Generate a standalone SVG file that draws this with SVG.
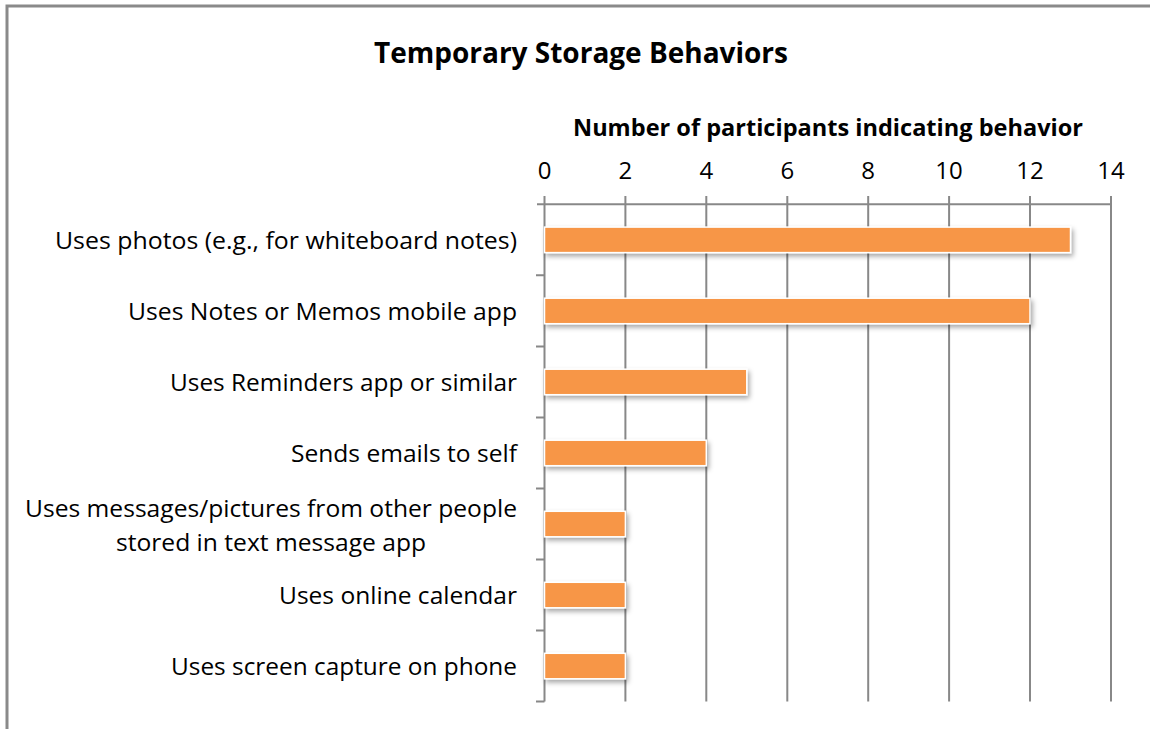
<svg xmlns="http://www.w3.org/2000/svg" width="1150" height="729" viewBox="0 0 1150 729">
<defs>
<style>
text{font-family:"Open Sans","Liberation Sans",sans-serif;fill:#000}
.title{font-size:28px;font-weight:bold;text-anchor:middle}
.atitle{font-size:23px;font-weight:bold;text-anchor:middle}
.tick{font-size:24px;text-anchor:middle}
.cat{font-size:23.5px;text-anchor:end}
.cat2{font-size:23.5px;text-anchor:middle}
.grid{stroke:#888;stroke-width:2;fill:none}
.bar{fill:#F79646;stroke:#fff;stroke-width:1.5;filter:url(#sh)}
</style>
<filter id="sh" x="-5%" y="-40%" width="115%" height="200%">
<feDropShadow dx="2" dy="3" stdDeviation="2.5" flood-color="#000" flood-opacity="0.35"/>
</filter>
</defs>
<rect x="7" y="6" width="1160" height="740" fill="#fff" stroke="#8a8a8a" stroke-width="3"/>
<text class="title" x="581" y="63" textLength="414" lengthAdjust="spacingAndGlyphs">Temporary Storage Behaviors</text>
<text class="atitle" x="828" y="136" textLength="510" lengthAdjust="spacingAndGlyphs">Number of participants indicating behavior</text>
<g id="ticklabels">
<text class="tick" x="544.5" y="179">0</text>
<text class="tick" x="625.4" y="179">2</text>
<text class="tick" x="706.3" y="179">4</text>
<text class="tick" x="787.3" y="179">6</text>
<text class="tick" x="868.2" y="179">8</text>
<text class="tick" x="949.1" y="179">10</text>
<text class="tick" x="1030" y="179">12</text>
<text class="tick" x="1111" y="179">14</text>
</g>
<g id="grid" class="grid">
<path d="M537 204.3H1111"/>
<path d="M544.5 196V701.5M625.4 196V701.5M706.3 196V701.5M787.3 196V701.5M868.2 196V701.5M949.1 196V701.5M1030 196V701.5M1111 196V701.5"/>
<path d="M536 275.3H544.5M536 346.4H544.5M536 417.4H544.5M536 488.4H544.5M536 559.5H544.5M536 630.5H544.5M536 701.5H544.5"/>
</g>
<g id="bars">
<rect class="bar" x="544.5" y="227.1" width="526" height="25.5"/>
<rect class="bar" x="544.5" y="298.2" width="485.5" height="25.5"/>
<rect class="bar" x="544.5" y="369.2" width="202.3" height="25.5"/>
<rect class="bar" x="544.5" y="440.2" width="161.8" height="25.5"/>
<rect class="bar" x="544.5" y="511.3" width="80.9" height="25.5"/>
<rect class="bar" x="544.5" y="582.3" width="80.9" height="25.5"/>
<rect class="bar" x="544.5" y="653.3" width="80.9" height="25.5"/>
</g>
<g id="labels">
<text class="cat" x="517" y="249" textLength="462" lengthAdjust="spacingAndGlyphs">Uses photos (e.g., for whiteboard notes)</text>
<text class="cat" x="517" y="320" textLength="389" lengthAdjust="spacingAndGlyphs">Uses Notes or Memos mobile app</text>
<text class="cat" x="517" y="391" textLength="347" lengthAdjust="spacingAndGlyphs">Uses Reminders app or similar</text>
<text class="cat" x="517" y="462" textLength="226" lengthAdjust="spacingAndGlyphs">Sends emails to self</text>
<text class="cat2" x="271" y="517" textLength="492" lengthAdjust="spacingAndGlyphs">Uses messages/pictures from other people</text>
<text class="cat2" x="271" y="551" textLength="310" lengthAdjust="spacingAndGlyphs">stored in text message app</text>
<text class="cat" x="517" y="604" textLength="238" lengthAdjust="spacingAndGlyphs">Uses online calendar</text>
<text class="cat" x="517" y="675" textLength="346" lengthAdjust="spacingAndGlyphs">Uses screen capture on phone</text>
</g>
</svg>
